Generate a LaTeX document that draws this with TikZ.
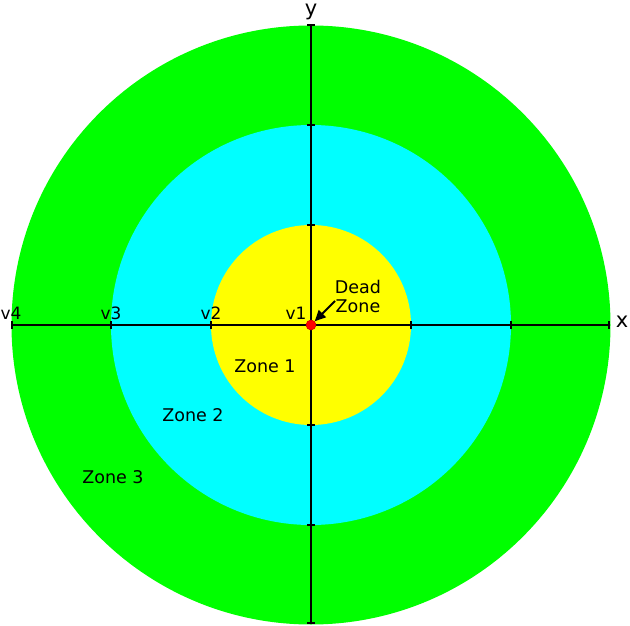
\documentclass[tikz,border=0pt]{standalone}
\usepackage{fontspec}
\setmainfont{DejaVu Sans}
\usetikzlibrary{arrows.meta}
\definecolor{zgreen}{RGB}{0,255,0}
\definecolor{zcyan}{RGB}{0,255,255}
\definecolor{zyellow}{RGB}{255,255,0}
\definecolor{zred}{RGB}{255,0,0}
\begin{document}
\begin{tikzpicture}[x=1pt,y=-1pt,
  axis/.style={line width=2pt,{Bar[width=8pt,line width=2pt]}-{Bar[width=8pt,line width=2pt]}},
  tick/.style={line width=2.5pt},
  zone/.style={font=\fontsize{17.5}{20}\selectfont,inner sep=0pt},
  vlab/.style={font=\fontsize{17}{19}\selectfont,inner sep=0pt},
  axlab/.style={font=\fontsize{21}{24}\selectfont,inner sep=0pt}]
\useasboundingbox (0,0) rectangle (630,626);
\fill[white] (0,0) rectangle (630,626);
\coordinate (o) at (311,325);
\fill[zgreen] (o) circle[radius=299.5];
\fill[zcyan] (o) circle[radius=200];
\fill[zyellow] (o) circle[radius=100];
% axes
\coordinate (xl) at (11,325);
\coordinate (xr) at (610,325);
\coordinate (yt) at (311,24);
\coordinate (yb) at (311,624);
\draw[axis] (xl) -- (xr);
\draw[axis] (yt) -- (yb);
% ticks
\foreach \t in {111,211,411,511}{
  \draw[tick] (\t,321) -- (\t,329);
}
\foreach \t in {125,225,425,525}{
  \draw[tick] (307,\t) -- (315,\t);
}
% labels
\node[axlab] (xlab) at (622,322) {x};
\node[axlab] (ylab) at (311,12) {y};
\node[vlab] (v1) at (296,313) {v1};
\node[vlab] (v2) at (211,313) {v2};
\node[vlab] (v3) at (111,313) {v3};
\node[vlab] (v4) at (11,313) {v4};
\node[zone] (z1) at (265,366) {Zone 1};
\node[zone] (z2) at (193,415) {Zone 2};
\node[zone] (z3) at (113,477) {Zone 3};
\node[zone,align=center] (dz) at (358,296) {Dead\\[-1pt]Zone};
% dead zone dot and arrow
\node[circle,fill=zred,draw=zred!80!black,line width=0.5pt,minimum size=10pt,inner sep=0pt] (dot) at (o) {};
\coordinate (atail) at (335,301);
\draw[line width=2pt,-{Triangle[length=11pt,width=10pt]}] (atail) -- (dot);
\end{tikzpicture}
\end{document}
